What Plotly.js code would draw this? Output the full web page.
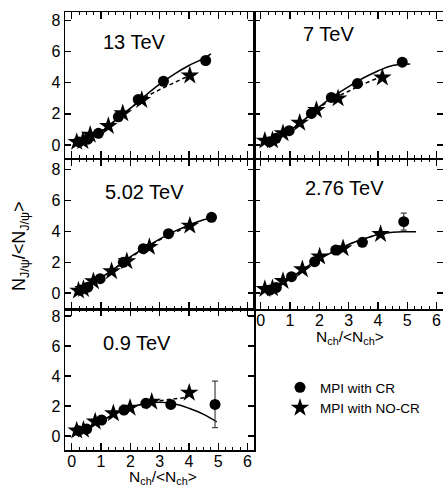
<!DOCTYPE html>
<html>
<head>
<meta charset="utf-8">
<script src="https://cdn.plot.ly/plotly-3.0.1.min.js"></script>
<style>html,body{margin:0;padding:0;background:#fff;}#plot{width:443px;height:489px;}</style>
</head>
<body>
<div id="plot"></div>
<script>
// ---- data ----
const panelLabels = ["13 TeV", "7 TeV", "5.02 TeV", "2.76 TeV", "0.9 TeV"];

// 13 TeV
const x13cr = [0.25, 0.55, 0.91, 1.59, 2.27, 3.13, 4.57];
const y13cr = [0.2, 0.38, 0.75, 1.81, 2.92, 4.09, 5.42];
const x13nc = [0.17, 0.38, 0.63, 1.25, 1.74, 2.39, 4.03];
const y13nc = [0.2, 0.25, 0.66, 1.22, 2.03, 2.88, 4.46];
const f13crX = [0.1, 0.5, 1, 1.5, 2, 2.5, 3, 3.5, 4, 4.5, 4.75];
const f13crY = [0.05, 0.35, 0.85, 1.6, 2.35, 3.15, 3.9, 4.55, 5.1, 5.55, 5.85];
const f13ncX = [0.1, 0.5, 1, 1.5, 2, 2.5, 3, 3.5, 3.9, 4.2];
const f13ncY = [0.1, 0.4, 0.9, 1.6, 2.35, 3.05, 3.55, 4.0, 4.35, 4.55];

// 7 TeV
const x7cr = [0.3, 0.52, 0.97, 1.73, 2.41, 3.3, 4.83];
const y7cr = [0.21, 0.43, 0.92, 2.03, 3.05, 3.94, 5.31];
const x7nc = [0.14, 0.4, 0.76, 1.33, 1.9, 2.64, 4.15];
const y7nc = [0.28, 0.3, 0.75, 1.43, 2.24, 2.99, 4.33];
const f7crX = [0.1, 0.5, 1, 1.5, 2, 2.5, 3, 3.5, 4, 4.5, 5.1];
const f7crY = [0.1, 0.4, 0.95, 1.65, 2.45, 3.15, 3.75, 4.3, 4.75, 5.1, 5.2];
const f7ncX = [0.1, 0.5, 1, 1.5, 2, 2.5, 3, 3.5, 4, 4.2];
const f7ncY = [0.12, 0.42, 0.95, 1.65, 2.4, 3.0, 3.45, 3.9, 4.3, 4.42];

// 5.02 TeV
const x5cr = [0.3, 0.55, 0.97, 1.76, 2.44, 3.3, 4.77];
const y5cr = [0.2, 0.38, 0.93, 1.99, 2.88, 3.85, 4.91];
const x5nc = [0.23, 0.4, 0.74, 1.36, 1.88, 2.65, 4.03];
const y5nc = [0.15, 0.25, 0.76, 1.41, 2.06, 2.99, 4.37];
const f5crX = [0.1, 0.5, 1, 1.5, 2, 2.5, 3, 3.5, 4, 4.5, 4.85];
const f5crY = [0.1, 0.45, 1.0, 1.65, 2.35, 2.95, 3.5, 4.0, 4.4, 4.75, 4.92];
const f5ncX = [0.1, 0.5, 1, 1.5, 2, 2.5, 3, 3.5, 4, 4.15];
const f5ncY = [0.1, 0.42, 0.98, 1.62, 2.3, 2.9, 3.45, 3.9, 4.35, 4.45];

// 2.76 TeV
const x2cr = [0.31, 0.53, 1.05, 1.84, 2.56, 3.47, 4.88];
const y2cr = [0.19, 0.35, 1.06, 2.03, 2.79, 3.29, 4.63];
const e2cr = [0, 0, 0, 0, 0, 0, 0.55];
const x2nc = [0.14, 0.4, 0.76, 1.42, 2.01, 2.81, 4.09];
const y2nc = [0.26, 0.3, 0.78, 1.54, 2.36, 2.9, 3.83];
const f2crX = [0.1, 0.5, 1, 1.5, 2, 2.5, 3, 3.5, 4, 4.5, 5, 5.3];
const f2crY = [0.15, 0.4, 0.95, 1.6, 2.2, 2.7, 3.15, 3.5, 3.8, 3.95, 3.97, 3.97];
const f2ncX = [0.1, 0.5, 1, 1.5, 2, 2.5, 3, 3.5, 4];
const f2ncY = [0.15, 0.42, 0.97, 1.6, 2.22, 2.72, 3.15, 3.5, 3.8];

// 0.9 TeV
const x09cr = [0.23, 0.51, 1.02, 1.78, 2.53, 3.38, 4.89];
const y09cr = [0.36, 0.47, 1.07, 1.73, 2.18, 2.11, 2.11];
const e09cr = [0, 0, 0, 0, 0, 0, 1.55];
const x09nc = [0.17, 0.4, 0.8, 1.42, 1.99, 2.73, 4.01];
const y09nc = [0.36, 0.42, 0.96, 1.51, 1.89, 2.29, 2.89];
const f09crX = [0.1, 0.5, 1, 1.5, 2, 2.5, 3, 3.5, 4, 4.5, 4.95];
const f09crY = [0.25, 0.55, 1.0, 1.5, 1.9, 2.15, 2.25, 2.15, 1.85, 1.45, 0.95];
const f09ncX = [0.1, 0.5, 1, 1.5, 2, 2.5, 3, 3.5, 3.85];
const f09ncY = [0.25, 0.55, 1.0, 1.5, 1.9, 2.18, 2.35, 2.48, 2.55];

const legendNames = ["MPI with CR", "MPI with NO-CR"];

// ---- build ----
const FONT = "Liberation Sans, Arial, Helvetica, sans-serif";
const panels = [
  {ax: "", cr: [x13cr, y13cr, null], nc: [x13nc, y13nc], fcr: [f13crX, f13crY], fnc: [f13ncX, f13ncY]},
  {ax: "2", cr: [x7cr, y7cr, null], nc: [x7nc, y7nc], fcr: [f7crX, f7crY], fnc: [f7ncX, f7ncY]},
  {ax: "3", cr: [x5cr, y5cr, null], nc: [x5nc, y5nc], fcr: [f5crX, f5crY], fnc: [f5ncX, f5ncY]},
  {ax: "4", cr: [x2cr, y2cr, e2cr], nc: [x2nc, y2nc], fcr: [f2crX, f2crY], fnc: [f2ncX, f2ncY]},
  {ax: "5", cr: [x09cr, y09cr, e09cr], nc: [x09nc, y09nc], fcr: [f09crX, f09crY], fnc: [f09ncX, f09ncY]}
];

const traces = [];
panels.forEach((p, i) => {
  const xa = "x" + p.ax, ya = "y" + p.ax;
  traces.push({x: p.fcr[0], y: p.fcr[1], xaxis: xa, yaxis: ya, mode: "lines",
    line: {color: "#000", width: 1.5, shape: "spline"}, showlegend: false, hoverinfo: "skip"});
  traces.push({x: p.fnc[0], y: p.fnc[1], xaxis: xa, yaxis: ya, mode: "lines",
    line: {color: "#000", width: 1.5, dash: "4px,3px", shape: "spline"}, showlegend: false, hoverinfo: "skip"});
  const crTrace = {x: p.cr[0], y: p.cr[1], xaxis: xa, yaxis: ya, mode: "markers",
    marker: {symbol: "circle", size: 11, color: "#000"}, name: legendNames[0],
    showlegend: i === 0, legendrank: 1};
  if (p.cr[2]) {
    crTrace.error_y = {type: "data", array: p.cr[2], visible: true, color: "#444", thickness: 1.2, width: 3};
  }
  traces.push(crTrace);
  traces.push({x: p.nc[0], y: p.nc[1], xaxis: xa, yaxis: ya, mode: "markers",
    marker: {symbol: "star", size: 14, color: "#000"}, name: legendNames[1],
    showlegend: i === 0, legendrank: 2});
});

const W = 443, H = 489;
const colL = [65 / W, 254 / W], colR = [254 / W, 1.0];
const row1 = [1 - 158 / H, 1 - 12 / H];
const row2 = [1 - 309 / H, 1 - 159 / H];
const row3 = [1 - 450 / H, 1 - 309 / H];

function xaxis(dom, anchor, labels) {
  return {domain: dom, anchor: anchor, range: [-0.23, 6.22], dtick: 1, tick0: 0,
    ticks: "inside", ticklen: 7, tickwidth: 1.3, tickcolor: "#000",
    showline: true, linecolor: "#000", linewidth: 1.5, mirror: "allticks",
    showgrid: false, zeroline: false, showticklabels: labels, ticklabelstandoff: -4,
    tickfont: {family: FONT, size: 16, color: "#000"},
    minor: {dtick: 0.25, ticks: "inside", ticklen: 3, tickwidth: 1, tickcolor: "#000", showgrid: false}};
}
function yaxis(dom, anchor, range, labels) {
  return {domain: dom, anchor: anchor, range: range, dtick: 2, tick0: 0,
    ticks: "inside", ticklen: 6, tickwidth: 1.3, tickcolor: "#000",
    showline: true, linecolor: "#000", linewidth: 1.5, mirror: "allticks",
    showgrid: false, zeroline: false, showticklabels: labels,
    tickfont: {family: FONT, size: 16, color: "#000"}};
}

const rA = [-0.83, 8.53], rB = [-1.04, 8.7], rC = [-0.93, 8.47];

const ann = [];
const labelPos = [
  {xref: "x domain", yref: "y domain", x: 0.19, y: 0.795},
  {xref: "x2 domain", yref: "y2 domain", x: 0.25, y: 0.849},
  {xref: "x3 domain", yref: "y3 domain", x: 0.2, y: 0.78},
  {xref: "x4 domain", yref: "y4 domain", x: 0.26, y: 0.807},
  {xref: "x5 domain", yref: "y5 domain", x: 0.19, y: 0.759}
];
labelPos.forEach((lp, i) => {
  ann.push(Object.assign({text: panelLabels[i], showarrow: false, xanchor: "left", yanchor: "middle",
    font: {family: FONT, size: 20, color: "#000"}}, lp));
});
const xTitle = "N<sub>ch</sub>/&lt;N<sub>ch</sub>&gt;";
ann.push({text: xTitle, xref: "paper", yref: "paper", x: 163 / W, y: 0, yanchor: "bottom",
  showarrow: false, xanchor: "center", font: {family: FONT, size: 15.5, color: "#000"}});
ann.push({text: xTitle, xref: "paper", yref: "paper", x: 350 / W, y: 1 - 337 / H,
  showarrow: false, xanchor: "center", yanchor: "middle", font: {family: FONT, size: 15.5, color: "#000"}});
ann.push({text: "N<sub>J/ψ</sub>/&lt;N<sub>J/ψ</sub>&gt;", xref: "paper", yref: "paper", x: 20 / W, y: 1 - 246 / H,
  showarrow: false, textangle: -90, xanchor: "center", yanchor: "middle", font: {family: FONT, size: 18, color: "#000"}});

const layout = {
  width: W, height: H, margin: {l: 0, r: 0, t: 0, b: 0},
  paper_bgcolor: "#fff", plot_bgcolor: "rgba(0,0,0,0)",
  font: {family: FONT, color: "#000"},
  showlegend: true,
  legend: {x: 280 / W, y: 1 - 372 / H, xanchor: "left", yanchor: "top", bgcolor: "rgba(0,0,0,0)",
    borderwidth: 0, font: {family: FONT, size: 13.5, color: "#000"}, tracegroupgap: 0, itemsizing: "trace"},
  xaxis: xaxis(colL, "y", false),
  yaxis: yaxis(row1, "x", rA, true),
  xaxis2: xaxis(colR, "y2", false),
  yaxis2: yaxis(row1, "x2", rA, false),
  xaxis3: xaxis(colL, "y3", false),
  yaxis3: yaxis(row2, "x3", rB, true),
  xaxis4: xaxis(colR, "y4", true),
  yaxis4: yaxis(row2, "x4", rB, false),
  xaxis5: xaxis(colL, "y5", true),
  yaxis5: yaxis(row3, "x5", rC, true),
  annotations: ann
};

Plotly.newPlot("plot", traces, layout, {staticPlot: true, displayModeBar: false});
</script>
</body>
</html>
